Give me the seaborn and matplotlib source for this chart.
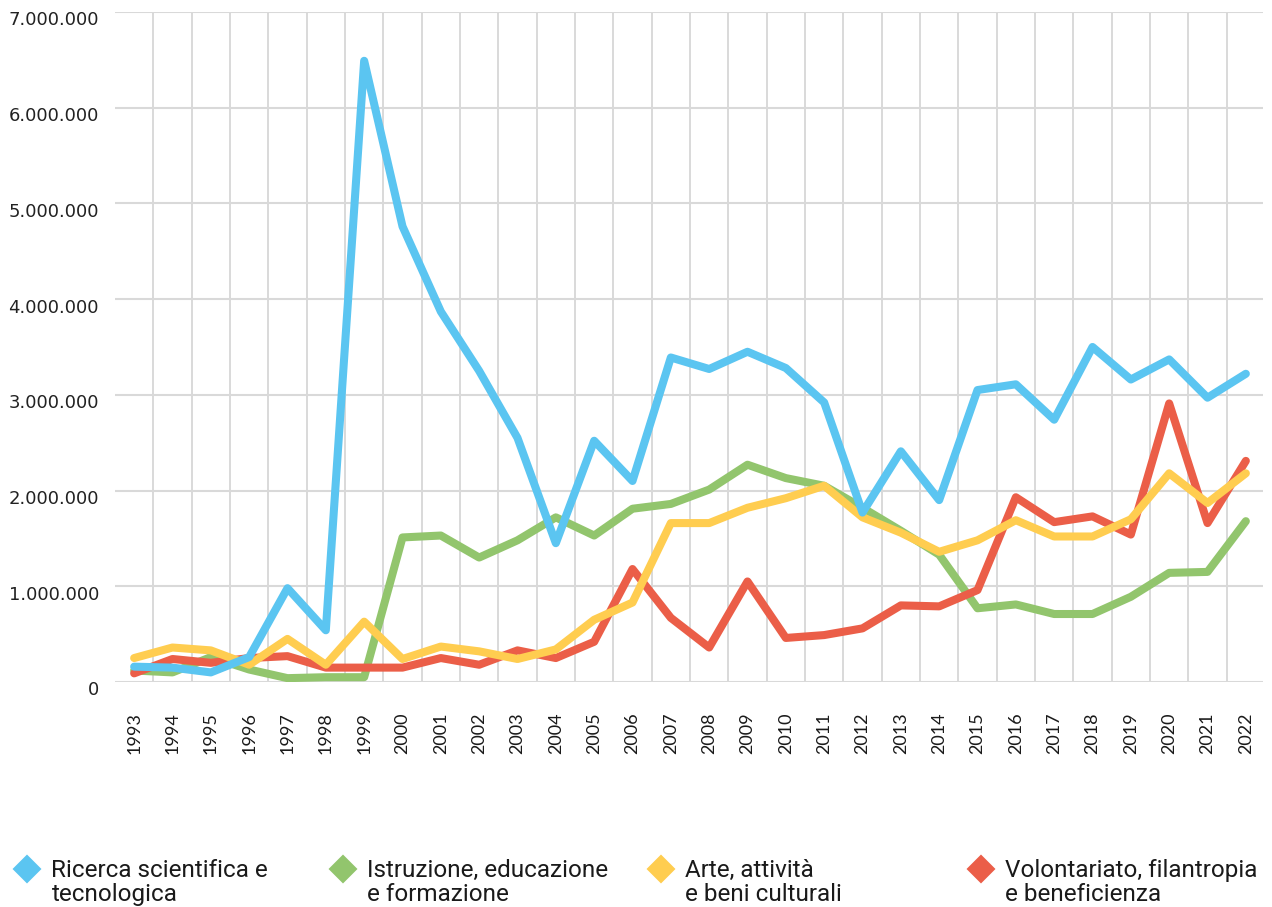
import matplotlib
matplotlib.use("Agg")
import numpy as np
import pandas as pd
import matplotlib.pyplot as plt
import matplotlib.transforms as mtransforms
import seaborn as sns
from matplotlib.lines import Line2D
from matplotlib.ticker import FixedLocator

# anni e valori (euro)
anni = list(range(1993, 2023))

ricerca = [160000, 150000, 100000, 260000, 980000, 540000, 6490000, 4760000, 3870000, 3250000,
           2550000, 1450000, 2520000, 2100000, 3390000, 3270000, 3450000, 3280000, 2920000, 1770000,
           2410000, 1900000, 3050000, 3110000, 2740000, 3500000, 3160000, 3370000, 2970000, 3220000]
istruzione = [120000, 100000, 260000, 130000, 40000, 50000, 50000, 1510000, 1530000, 1300000,
              1480000, 1720000, 1530000, 1810000, 1860000, 2010000, 2270000, 2130000, 2050000, 1820000,
              1580000, 1330000, 770000, 810000, 710000, 710000, 890000, 1140000, 1150000, 1680000]
arte = [250000, 360000, 330000, 180000, 450000, 180000, 630000, 240000, 370000, 320000,
        240000, 340000, 650000, 830000, 1660000, 1660000, 1820000, 1920000, 2050000, 1720000,
        1560000, 1360000, 1480000, 1690000, 1520000, 1520000, 1700000, 2180000, 1870000, 2180000]
volontariato = [90000, 240000, 200000, 250000, 270000, 150000, 150000, 150000, 250000, 180000,
                330000, 250000, 420000, 1180000, 670000, 360000, 1050000, 460000, 490000, 560000,
                800000, 790000, 960000, 1930000, 1670000, 1730000, 1540000, 2910000, 1660000, 2310000]

settori = ["Ricerca scientifica e\ntecnologica",
           "Istruzione, educazione\ne formazione",
           "Arte, attività\ne beni culturali",
           "Volontariato, filantropia\ne beneficienza"]
colori = ["#5BC5F1", "#92C56D", "#FFCD50", "#EB5E48"]

tick_y = [0, 1000000, 2000000, 3000000, 4000000, 5000000, 6000000, 7000000]
etichette_y = [f"{v:,}".replace(",", ".") for v in tick_y]

df = pd.DataFrame({"anno": anni, settori[0]: ricerca, settori[1]: istruzione,
                   settori[2]: arte, settori[3]: volontariato})
df = df.melt(id_vars="anno", var_name="settore", value_name="valore")

sns.set_style("white")
plt.rcParams["font.family"] = ["Lato", "DejaVu Sans"]

fig = plt.figure(figsize=(12.72, 9.07), dpi=100)
ax = fig.add_axes([0.0904, 0.2481, 0.9026, 0.7387])

# ordine di disegno: verde, rosso, giallo, blu
ordine = [settori[1], settori[3], settori[2], settori[0]]
sns.lineplot(data=df, x="anno", y="valore", hue="settore", hue_order=ordine,
             palette=dict(zip(settori, colori)), linewidth=5.8, legend=False, ax=ax,
             solid_capstyle="round", solid_joinstyle="round")

ax.set_xlim(1992.5, 2022.45)
ax.set_ylim(0, 7000000)
ax.set_xlabel("")
ax.set_ylabel("")

ax.tick_params(axis="x", which="major", length=0, pad=22, labelsize=13, labelcolor="#1a1a1a")
ax.tick_params(axis="x", which="minor", length=16, width=1.2, color="#d3d3d3", direction="out")
ax.tick_params(axis="y", which="major", length=0, pad=11.5)

ax.set_yticks(tick_y, etichette_y, fontfamily="DejaVu Sans", fontsize=13, color="#222222")
ax.set_xticks(anni, [str(a) for a in anni], rotation=90)
ax.xaxis.set_minor_locator(FixedLocator(np.arange(1993.5, 2022, 1)))

ax.grid(False)
ax.grid(axis="y", which="major", color="#d9d9d9", linewidth=1.5)
ax.grid(axis="x", which="minor", color="#d3d3d3", linewidth=1.2)
for s in ax.spines.values():
    s.set_visible(False)

offset = mtransforms.ScaledTranslation(0, -6.5 / 100, fig.dpi_scale_trans)
for lab in ax.get_yticklabels():
    lab.set_transform(lab.get_transform() + offset)

# legenda in basso: quattro blocchi, rombo allineato alla prima riga
pos_x = [0.0118, 0.2602, 0.5102, 0.7618]
fs = 17.5
for nome, col, px in zip(settori, colori, pos_x):
    riga1, riga2 = nome.split("\n")
    h = Line2D([], [], marker="D", linestyle="", color=col, markersize=13.5,
               markeredgewidth=1.5, markeredgecolor=col)
    leg = fig.legend(handles=[h], labels=[riga1], loc="center left",
                     bbox_to_anchor=(px, 0.0401), frameon=False, borderpad=0,
                     borderaxespad=0, handlelength=1.0, handletextpad=0.5,
                     prop={"family": "Roboto", "size": fs})
    t1 = leg.get_texts()[0]
    t1.set_color("#1a1a1a")
    ax.annotate(riga2, xy=(0, 0), xycoords=t1, xytext=(0, -13.5), textcoords="offset points",
                va="baseline", ha="left", family="Roboto", fontsize=fs, color="#1a1a1a",
                annotation_clip=False)

fig.canvas.draw()
fig.savefig("out.png", dpi=100)
